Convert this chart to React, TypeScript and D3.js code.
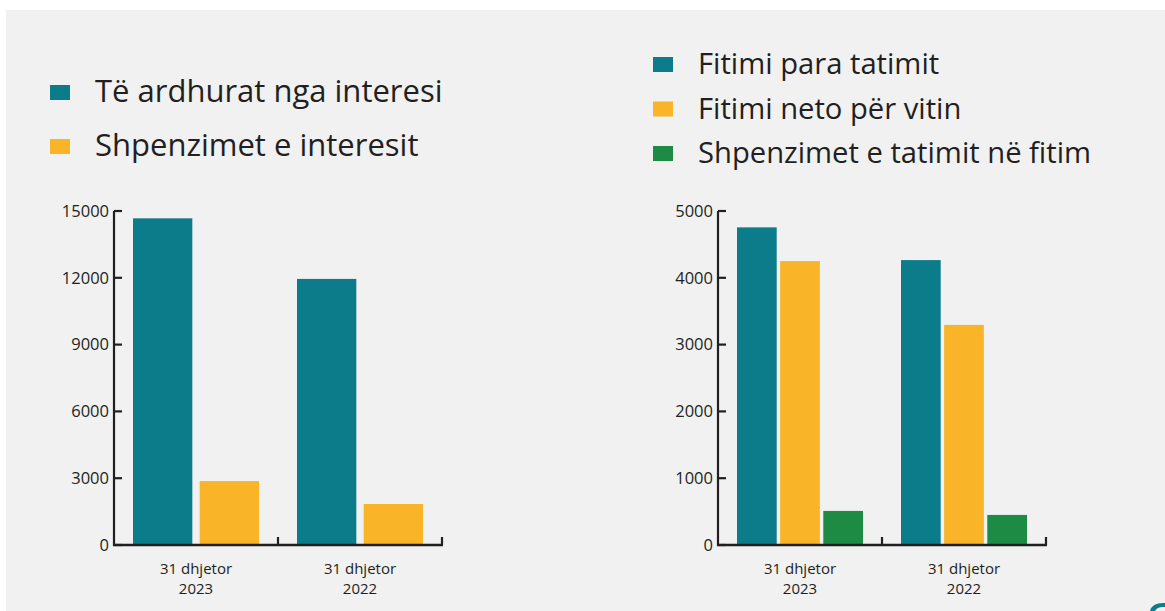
import React from "react";
import * as d3 from "d3";

const W = 1165;
const H = 611;

const categories = ["31 dhjetor 2023", "31 dhjetor 2022"];
const leftSeries = ["Të ardhurat nga interesi", "Shpenzimet e interesit"];
const leftValues = [
  [14670, 2870],
  [11950, 1840],
];
const leftTicks = [0, 3000, 6000, 9000, 12000, 15000];

const rightSeries = ["Fitimi para tatimit", "Fitimi neto për vitin", "Shpenzimet e tatimit në fitim"];
const rightValues = [
  [4755, 4250, 510],
  [4265, 3295, 450],
];
const rightTicks = [0, 1000, 2000, 3000, 4000, 5000];

const colors = ["#0c7b8a", "#f9b428", "#1e8b45"];
const FONT = "'Open Sans', sans-serif";
const INK = "#231f20";

type PanelProps = {
  x0: number;
  x1: number;
  yTop: number;
  yBottom: number;
  max: number;
  ticks: number[];
  series: string[];
  values: number[][];
  innerPad: number;
};

function BarPanel({ x0, x1, yTop, yBottom, max, ticks, series, values, innerPad }: PanelProps) {
  const y = d3.scaleLinear().domain([0, max]).range([yBottom, yTop]);
  const xb = d3.scaleBand<string>().domain(categories).range([x0, x1]).padding(0);
  const bw = xb.bandwidth();
  const xs = d3.scaleBand<string>().domain(series).range([19, bw - 19]).paddingInner(innerPad);
  return (
    <g>
      {categories.map((c, ci) => {
        const cx = (xb(c) as number) + bw / 2;
        const parts = c.split(" ");
        return (
          <g key={c}>
            {series.map((s, si) => (
              <rect
                key={s}
                x={(xb(c) as number) + (xs(s) as number)}
                y={y(values[ci][si])}
                width={xs.bandwidth()}
                height={yBottom - y(values[ci][si])}
                fill={colors[si]}
              />
            ))}
            <text x={cx} y={yBottom + 29} textAnchor="middle" fontFamily={FONT} fontSize={15} fill={INK}>
              {parts.slice(0, 2).join(" ")}
            </text>
            <text x={cx} y={yBottom + 49} textAnchor="middle" fontFamily={FONT} fontSize={15} fill={INK}>
              {parts[2]}
            </text>
          </g>
        );
      })}
      {ticks.map((t) => (
        <g key={t}>
          <line x1={x0} x2={x0 + 8} y1={y(t)} y2={y(t)} stroke={INK} strokeWidth={2.2} />
          <text
            x={x0 - 5}
            y={y(t)}
            dy="0.35em"
            textAnchor="end"
            fontFamily={FONT}
            fontSize={16.5}
            fill={INK}
          >
            {t}
          </text>
        </g>
      ))}
      {categories.map((c) => (
        <line
          key={"bt" + c}
          x1={(xb(c) as number) + bw}
          x2={(xb(c) as number) + bw}
          y1={yBottom}
          y2={yBottom - 8}
          stroke={INK}
          strokeWidth={2.2}
        />
      ))}
      <line x1={x0} x2={x0} y1={yTop} y2={yBottom + 1} stroke={INK} strokeWidth={2.2} />
      <line x1={x0 - 1} x2={x1 + 1} y1={yBottom} y2={yBottom} stroke={INK} strokeWidth={2.4} />
    </g>
  );
}

type LegendProps = { x: number; y: number; gap: number; items: string[]; size: number };
function Legend({ x, y, gap, items, size }: LegendProps) {
  return (
    <g>
      {items.map((s, i) => (
        <g key={s} transform={`translate(${x},${y + i * gap})`}>
          <rect x={0} y={-17} width={20} height={15} fill={colors[i]} />
          <text x={45} y={0} fontFamily={FONT} fontSize={size} fill={INK}>
            {s}
          </text>
        </g>
      ))}
    </g>
  );
}

export default function App() {
  return (
    <svg
      width={W}
      height={H}
      style={{ position: "absolute", left: 0, top: 0, display: "block" }}
    >
      <rect x={0} y={0} width={W} height={H} fill="#ffffff" />
      <rect x={6} y={10} width={W - 6} height={H - 10} fill="#f0f1f0" />
      <Legend x={50} y={102} gap={54} items={leftSeries} size={31} />
      <Legend x={653} y={74} gap={44.5} items={rightSeries} size={29.2} />
      <BarPanel
        x0={114}
        x1={442}
        yTop={211}
        yBottom={545}
        max={15000}
        ticks={leftTicks}
        series={leftSeries}
        values={leftValues}
        innerPad={0.11}
      />
      <BarPanel
        x0={718}
        x1={1046}
        yTop={211}
        yBottom={545}
        max={5000}
        ticks={rightTicks}
        series={rightSeries}
        values={rightValues}
        innerPad={0.08}
      />
      <path d="M1150,611 Q1152,603 1163,603 L1165,603 L1165,607 L1163,607 Q1157,607 1155,611 Z" fill="#0c7b8a" />
    </svg>
  );
}
